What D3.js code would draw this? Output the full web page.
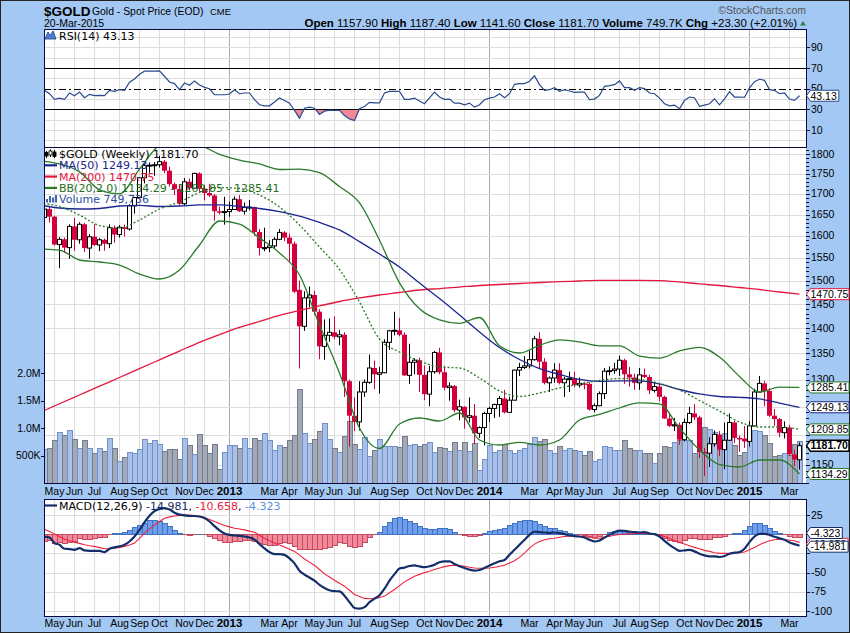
<!DOCTYPE html>
<html><head><meta charset="utf-8">
<script src="https://cdn.jsdelivr.net/npm/d3@7/dist/d3.min.js"></script>
<style>
html,body{margin:0;padding:0;background:#A4C8F4;}
svg{display:block;}
text{font-family:"Liberation Sans",Arial,sans-serif;}
.lg{font-family:"DejaVu Sans",Verdana,sans-serif;}
</style></head><body>
<svg id="chart" width="850" height="633"></svg>
<script>
// ================= DATA =================
const firstWeek = "2012-04-16"; // Monday of first weekly bar
const opens = [1659,1643,1663,1645,1580,1592,1573,1622,1591,1627,
1572,1598,1579,1591,1582,1619,1603,1620,1616,1671,
1691,1740,1771,1772,1773,1781,1758,1724,1712,1676,
1730,1714,1751,1713,1702,1696,1658,1656,1657,1662,
1687,1658,1667,1668,1609,1572,1573,1577,1592,1608,
1596,1582,1480,1404,1463,1469,1434,1364,1386,1392,
1383,1387,1297,1234,1223,1277,1295,1322,1310,1313,
1372,1395,1396,1387,1308,1333,1337,1309,1273,1315,
1352,1314,1285,1288,1244,1250,1231,1234,1203,1213,
1238,1247,1254,1265,1240,1262,1318,1323,1326,1338,
1379,1334,1294,1303,1318,1294,1301,1302,1290,1293,
1292,1245,1252,1274,1316,1317,1320,1337,1310,1304,
1294,1309,1305,1280,1287,1268,1229,1216,1218,1192,
1222,1238,1231,1171,1169,1185,1201,1175,1191,1222,
1195,1194,1189,1216,1277,1293,1279,1234,1228,1204,
1213,1167,1157.9];
const highs = [1660,1666,1670,1647,1597,1596,1627,1642,1632,1630,
1604,1627,1595,1594,1627,1624,1625,1626,1675,1692,
1741,1777,1779,1780,1796,1785,1768,1728,1723,1739,
1738,1753,1754,1722,1725,1700,1669,1693,1681,1694,
1697,1679,1685,1669,1616,1619,1590,1597,1616,1611,
1605,1587,1500,1477,1487,1478,1439,1418,1420,1424,
1397,1392,1300,1267,1297,1300,1348,1336,1324,1378,
1397,1434,1421,1392,1369,1341,1342,1327,1326,1355,
1361,1326,1295,1290,1263,1251,1267,1255,1215,1241,
1250,1256,1270,1281,1268,1319,1332,1345,1355,1385,
1392,1341,1306,1331,1331,1305,1315,1315,1304,1296,
1295,1256,1278,1322,1325,1332,1346,1340,1324,1311,
1322,1321,1309,1296,1294,1270,1240,1230,1222,1229,
1250,1255,1234,1178,1196,1208,1207,1222,1238,1225,
1199,1216,1224,1283,1307,1298,1284,1246,1230,1224,
1218,1175,1187.4];
const lows = [1627,1632,1631,1578,1527,1561,1548,1566,1582,1563,
1548,1577,1565,1566,1572,1584,1596,1598,1612,1652,
1687,1726,1753,1745,1766,1752,1718,1697,1672,1672,
1708,1713,1705,1684,1693,1635,1650,1626,1645,1661,
1656,1650,1660,1600,1555,1565,1563,1571,1590,1588,
1539,1473,1321,1395,1443,1427,1339,1338,1373,1378,
1366,1268,1180,1207,1208,1268,1292,1282,1274,1312,
1357,1386,1384,1307,1292,1310,1277,1262,1251,1311,
1310,1280,1261,1240,1226,1211,1222,1185,1195,1182,
1223,1230,1232,1238,1239,1262,1307,1320,1321,1336,
1321,1291,1277,1294,1291,1268,1277,1286,1285,1282,
1243,1240,1251,1264,1308,1311,1307,1292,1287,1281,
1281,1303,1273,1276,1260,1228,1214,1207,1183,1189,
1219,1226,1161,1131,1146,1180,1164,1142,1190,1186,
1171,1178,1180,1215,1276,1251,1232,1216,1196,1194,
1164,1147,1141.6];
const closes = [1643,1663,1645,1580,1592,1573,1622,1591,1627,1572,
1598,1579,1591,1582,1619,1603,1620,1616,1671,1691,
1740,1771,1772,1773,1781,1758,1724,1712,1676,1730,
1714,1751,1713,1702,1696,1658,1656,1657,1662,1687,
1658,1667,1668,1609,1572,1573,1577,1592,1608,1596,
1582,1476,1404,1463,1469,1434,1364,1386,1392,1383,
1387,1297,1234,1223,1277,1295,1322,1310,1313,1372,
1395,1396,1387,1308,1333,1337,1309,1273,1315,1352,
1314,1285,1288,1244,1250,1231,1234,1203,1213,1238,
1247,1254,1265,1240,1262,1318,1323,1326,1338,1379,
1334,1294,1303,1318,1294,1301,1302,1290,1293,1292,
1245,1252,1274,1316,1317,1320,1337,1310,1304,1294,
1309,1305,1280,1287,1268,1229,1216,1218,1192,1222,
1238,1231,1171,1169,1185,1201,1175,1191,1222,1195,
1194,1189,1216,1277,1293,1279,1234,1228,1204,1213,
1167,1158.4,1181.7];
const volumesK = [600,614,632,766,924,875,966,784,632,766,
632,529,632,583,815,632,389,468,553,541,
614,784,723,766,705,583,614,614,437,815,
675,511,888,690,541,705,250,560,690,690,
620,815,632,815,770,905,766,600,690,650,
766,875,1708,905,720,784,948,1088,784,632,
560,845,1130,705,614,830,492,600,784,660,
670,660,650,850,690,700,670,710,735,550,
650,630,570,735,600,740,570,720,237,430,
680,550,590,710,590,540,590,630,710,830,
765,800,600,540,660,600,630,600,570,510,
570,390,430,660,650,600,600,780,620,600,
600,540,530,360,540,660,650,735,780,770,
770,540,1015,1015,980,920,770,910,830,675,
510,550,845,966,940,875,720,490,500,530,
510,700,749.736];
const rsiValues = [49.5,
48.4,45.1,39.6,40.9,39.6,45.8,43.2,46.7,41.2,44.5,
43.2,43.5,43.2,48.4,47.4,49.0,48.4,56.2,59.4,64.0,
66.9,66.9,66.9,67.2,62.0,56.5,54.9,49.0,55.5,53.3,
57.5,53.6,51.3,50.0,44.1,44.1,44.1,44.8,49.0,45.1,
45.8,45.8,39.3,34.4,33.4,33.4,37.0,40.9,38.6,36.0,
28.9,21.4,31.1,32.1,31.1,25.0,28.2,29.2,28.9,28.9,
24.0,20.7,19.1,30.5,32.8,36.7,36.3,36.3,45.8,47.4,
47.4,47.4,39.6,39.6,40.9,38.0,35.4,
41.0,46.7,
41.9,39.6,39.9,36.0,36.0,34.4,36.0,32.1,34.4,39.3,
40.9,41.9,45.1,41.2,45.1,54.2,54.9,54.9,57.2,62.4,
53.9,48.4,49.0,51.0,47.4,49.0,47.7,46.4,46.7,46.7,
39.3,39.9,43.5,52.3,52.9,53.9,57.5,51.0,51.0,48.4,
51.0,50.0,45.8,45.1,40.9,35.4,33.4,34.1,30.5,38.6,
41.9,41.2,32.8,34.1,35.4,40.2,34.4,40.2,47.1,41.9,
41.9,41.5,50.7,56.8,59.1,58.1,49.0,48.4,45.1,45.8,
39.9,38.6,43.13];
const macdValues = [-1,
-3,-4.3,-11.6,-13.8,-19,-19.4,-20.3,-18.1,-21.1,-21.6,
-21.6,-21.6,-23.3,-19,-17.2,-15.9,-13.8,-9.5,-3,5.6,
15.5,24.1,30,33,34,32,28,25.5,24.5,23.7,
23.7,23,21,16.5,10.5,5,1,-0.9,-1.7,-2.2,
-3,-4.3,-7,-13,-18.5,-23.3,-25.9,-26,-27,-31.5,
-38,-47.5,-52.6,-56.5,-60.5,-66,-70,-73,-74.1,-74.5,
-80,-88.5,-96,-97,-95,-88.5,-84,-79.5,-71,-60.5,
-52,-44.8,-43.5,-41.4,-40.5,-42,-43,
-41.8,-39.7,-36.6,-35.3,-35.3,-38.8,-41.8,-44,-46.1,-47.4,
-46.6,-44,-40.9,-37.9,-35.3,-33.6,-26.7,-20.3,-13.8,-7.3,
-0.9,3.4,2.6,2.2,1.7,2.2,1.3,0,-1.7,-2.6,
-3,-4.3,-7.3,-9.5,-8.2,-4.3,-0.9,2.6,4.7,4.3,
3.4,2.6,2.2,2.6,0.9,0,-3,-8.6,-13.8,-18.1,
-21.6,-21.1,-20.3,-22.4,-25.4,-27.6,-28.9,-28.9,-29.7,-28.4,
-25.4,-24.1,-23.3,-19,-10.3,-3,0.4,0.4,-0.9,-3.4,
-5.2,-7.3,-10.8,-12.9,-14.981];
const signalValues = [9,
6.5,3.5,0.4,-3,-6.5,-8.5,-10.3,-12,-13.8,-15,
-15.9,-17.5,-19,-18.8,-18.1,-17.2,-15.9,-14,-11.6,-5.5,
1.3,6.5,12.1,16.5,20.7,22.5,23.7,24.5,25,24.8,
24.1,23,21.6,19,16.4,13.8,11.2,9.5,7.8,6.7,
5.6,4,2.6,-1.3,-5.2,-8.4,-11.6,-14.2,-16.8,-19.6,
-22.4,-27.3,-32.3,-36.4,-40.5,-46,-51.7,-55.8,-59.9,-63.8,
-67.7,-73,-78.4,-81,-83.6,-84,-83.6,-82.3,-80.6,-76.3,
-72,-67,-62.1,-58.4,-54.7,-52.3,-50,
-48.3,-46.1,-44,-42.2,-40.9,-40.5,-40.9,-41.8,-43.1,-44,
-44.4,-44.4,-44,-43.1,-41.8,-40.5,-37.5,-34.5,-30.2,-24.6,
-18.1,-12.9,-9.5,-7.3,-6,-5.2,-3.9,-3,-2.6,-2.6,
-2.6,-3,-3.9,-5.2,-5.2,-3.9,-2.6,-1.3,-0.4,0,
0.4,0.9,0.9,0.9,0.9,0.4,-0.9,-3,-5.6,-8.2,
-10.8,-12.9,-15.1,-17.2,-19,-21.1,-22.4,-24.1,-25,-25,
-25,-24.6,-24.1,-23.3,-20.3,-17.2,-13.8,-10.8,-8.6,-7.3,
-6.5,-6.9,-7.8,-8.6,-10.658];
// overlays read every 4th week
const sampleWeeks = [0,4,8,12,16,20,24,28,32,36,40,44,48,52,56,60,64,68,72,76,80,84,88,92,96,100,104,108,112,116,120,124,128,132,136,140,144,148,152];
const ma50 = [1673,1665.7,1663.3,1664.5,1670.5,1671.8,1669.3,1670.5,1673,1673,1669.3,1664.5,1657.2,1646.5,1631.2,1613.7,1586.6,1558.6,1529.7,1494.6,1461.6,1427.3,1392.7,1361.7,1338.3,1321,1309.7,1300.3,1296.6,1297.5,1297.5,1291.9,1281.6,1273.4,1268.7,1267.2,1264.2,1256.8,1249.13];
const ma200 = [1239.5,1255.5,1271.5,1287.7,1304,1320.8,1337.7,1354.8,1372,1387.4,1401.7,1413.9,1426.2,1436.5,1445.9,1455.3,1462.7,1469,1474.3,1479.7,1482.8,1486,1489.3,1491.5,1493.6,1495.8,1497.5,1499,1500.5,1500.5,1500.5,1500,1496.9,1492.6,1489.3,1485,1480.7,1475.4,1470.75];
const bbUpper = [1783,1775,1755,1710,1700,1762,1823,1837,1825,1800,1785,1775,1761,1762,1753,1718,1678,1590,1495,1440,1417,1410,1422,1365,1351,1366,1377,1373,1365,1365,1345,1341,1355,1362,1343,1306,1277,1286,1285.41];
const bbMiddle = [1677.7,1669.3,1648.9,1624.1,1618.3,1637.1,1663.3,1680.2,1703.4,1715.7,1713.3,1697.2,1668.1,1625.3,1574.4,1524.1,1454.2,1378.6,1352.9,1335.4,1323.9,1322.0,1303.1,1278.8,1268.7,1275.1,1284.4,1291.8,1298.4,1302.1,1300.2,1292.7,1280.7,1261.4,1242.4,1222.8,1214.0,1214.0,1209.85];
const bbLower = [1569.9,1567.6,1545.2,1540.7,1534.0,1514.2,1503.3,1523.0,1579.0,1634.7,1627.6,1595.1,1560.9,1512.1,1406.7,1312.5,1212.3,1176.9,1219.3,1229.9,1224.6,1238.8,1191.5,1182.9,1187.2,1182.9,1191.5,1226.4,1236.2,1247.8,1256.9,1255.1,1212.3,1174.4,1150.0,1145.9,1157.5,1157.5,1134.29];
const priceTicks = [1150,1200,1250,1300,1350,1400,1450,1500,1550,1600,1650,1700,1750,1800];
const rsiTicks = [10,30,50,70,90];
const macdTicks = [25,0,-25,-50,-75,-100];
const volTicks = [500000,1000000,1500000,2000000];
const volTickLabels = ["500K","1.0M","1.5M","2.0M"];
const monthNames = ["Jan","Feb","Mar","Apr","May","Jun","Jul","Aug","Sep","Oct","Nov","Dec"];
const hiddenMonthLabels = ["Feb"];
const headerItems = [["Open ",1],["1157.90 ",0],["High ",1],["1187.40 ",0],["Low ",1],["1141.60 ",0],["Close ",1],["1181.70 ",0],["Volume ",1],["749.7K ",0],["Chg ",1],["+23.30 (+2.01%)",0]];

// ================= LAYOUT / STYLE =================
const C = {bg:'#A4C8F4', border:'#0A0A3C', grid:'#DDDDDD', gridYear:'#AAAAAA', red:'#D2003C',
  ma50:'#1C2690', ma200:'#E5163E', bb:'#2A7A2A', rsi:'#2A4A8C', rsiFill:'#F2899B',
  macd:'#142E6A', signal:'#F0213F', histPos:'#6E9EEC', histPosS:'#4272C2', histNeg:'#F38A9B', histNegS:'#C64A60',
  volUp:'#A9C1E8', volUpS:'#6F90C8', volDn:'#A3A9B6', volDnS:'#737C8C'};
const L=44, R=806;
const P = {rsi:[29.5,147], main:[147,483], macd:[499,616]};

const svg = d3.select('#chart');
const defs = svg.append('defs');
svg.append('rect').attr('width',850).attr('height',633).attr('fill',C.bg);
Object.entries(P).forEach(([k,[t,b]])=>{
  svg.append('rect').attr('x',L).attr('y',t).attr('width',R-L).attr('height',b-t).attr('fill','#fff');
  defs.append('clipPath').attr('id','clip-'+k).append('rect').attr('x',L).attr('y',t).attr('width',R-L).attr('height',b-t);
});

// ================= SCALES =================
const n = opens.length;
const t0 = new Date(firstWeek+"T00:00:00Z");
const dates = d3.range(n).map(i=>d3.utcDay.offset(t0, 7*i));
const x = d3.scaleUtc().domain([dates[0],dates[n-1]]).range([39.5,799.5]);
const y = d3.scaleLog().domain([1119.7,1819.1]).range([483,147]);
const yv = d3.scaleLinear().domain([0,6.126e6]).range([483,147]);
const yr = d3.scaleLinear().domain([-6.5,107.3]).range([147,29.5]);
const ym = d3.scaleLinear().domain([-106.5,45.8]).range([616,499]);
const cr = v => Math.round(v)+0.5;
const last = a=>a[a.length-1];

// ================= GRID =================
const grid = svg.append('g').attr('shape-rendering','crispEdges');
const monthIdx = d3.range(1,n).filter(i=>dates[i].getUTCMonth()!==dates[i-1].getUTCMonth());
Object.values(P).forEach(([t,b])=>{
  monthIdx.forEach(i=>{
    const xx = cr(x(dates[i])-0.5);
    grid.append('line').attr('x1',xx).attr('x2',xx).attr('y1',t).attr('y2',b)
      .attr('stroke', dates[i].getUTCMonth()===0?C.gridYear:C.grid).attr('stroke-width',1);
  });
});
d3.range(0,101,10).filter(v=>![30,50,70].includes(v)).forEach(v=>{
  grid.append('line').attr('x1',L).attr('x2',R).attr('y1',cr(yr(v))).attr('y2',cr(yr(v))).attr('stroke',C.grid);
});
priceTicks.forEach(v=>grid.append('line').attr('x1',L).attr('x2',R).attr('y1',cr(y(v))).attr('y2',cr(y(v))).attr('stroke',C.grid));
macdTicks.forEach(v=>grid.append('line').attr('x1',L).attr('x2',R).attr('y1',cr(ym(v))).attr('y2',cr(ym(v))).attr('stroke',C.grid));

// ================= RSI PANEL =================
const rsiG = svg.append('g').attr('clip-path','url(#clip-rsi)');
defs.append('clipPath').attr('id','clip-rsi-low').append('rect').attr('x',L).attr('y',yr(30)).attr('width',R-L).attr('height',P.rsi[1]-yr(30));
rsiG.append('path').datum(rsiValues)
  .attr('d', d3.area().x((d,i)=>x(dates[i])).y0(yr(30)).y1(d=>yr(d)))
  .attr('fill',C.rsiFill).attr('clip-path','url(#clip-rsi-low)');
[30,70].forEach(v=>rsiG.append('line').attr('x1',L).attr('x2',R).attr('y1',cr(yr(v))).attr('y2',cr(yr(v))).attr('stroke','#000').attr('shape-rendering','crispEdges'));
rsiG.append('line').attr('x1',L).attr('x2',R).attr('y1',cr(yr(50))).attr('y2',cr(yr(50))).attr('stroke','#000').attr('stroke-dasharray','7,3,2,3').attr('shape-rendering','crispEdges');
rsiG.append('path').datum(rsiValues).attr('d', d3.line().x((d,i)=>x(dates[i])).y(d=>yr(d)))
  .attr('fill','none').attr('stroke',C.rsi).attr('stroke-width',1.2);

// ================= MAIN PANEL =================
const mainG = svg.append('g').attr('clip-path','url(#clip-main)');
const volG = mainG.append('g').attr('shape-rendering','crispEdges');
volumesK.forEach((v,i)=>{
  const up = i===0 ? closes[i]>=opens[i] : closes[i]>=closes[i-1];
  const cx = x(dates[i]);
  volG.append('rect').attr('x',cx-2.5).attr('width',5).attr('y',yv(v*1000)).attr('height',483-yv(v*1000))
    .attr('fill',up?C.volUp:C.volDn).attr('stroke',up?C.volUpS:C.volDnS).attr('stroke-width',1);
});
const cG = mainG.append('g');
d3.range(n).forEach(i=>{
  const cx = x(dates[i]);
  const up = closes[i]>=opens[i];
  const col = up?'#000':C.red;
  cG.append('line').attr('x1',cx).attr('x2',cx).attr('y1',y(highs[i])).attr('y2',y(lows[i])).attr('stroke',col).attr('stroke-width',1);
  const yt = y(Math.max(opens[i],closes[i])), yb = y(Math.min(opens[i],closes[i]));
  if(up){
    cG.append('rect').attr('x',cx-2).attr('width',4).attr('y',yt).attr('height',Math.max(1,yb-yt))
      .attr('fill','#fff').attr('stroke','#000').attr('stroke-width',1);
  } else {
    cG.append('rect').attr('x',cx-2.5).attr('width',5).attr('y',yt).attr('height',Math.max(1.5,yb-yt)).attr('fill',C.red);
  }
});
const sLine = d3.line().x((d,k)=>x(dates[sampleWeeks[k]])).y(d=>y(d)).curve(d3.curveMonotoneX);
mainG.append('path').datum(ma200).attr('d',sLine).attr('fill','none').attr('stroke',C.ma200).attr('stroke-width',1.3);
mainG.append('path').datum(ma50).attr('d',sLine).attr('fill','none').attr('stroke',C.ma50).attr('stroke-width',1.3);
mainG.append('path').datum(bbUpper).attr('d',sLine).attr('fill','none').attr('stroke',C.bb).attr('stroke-width',1.3);
mainG.append('path').datum(bbLower).attr('d',sLine).attr('fill','none').attr('stroke',C.bb).attr('stroke-width',1.3);
mainG.append('path').datum(bbMiddle).attr('d',sLine).attr('fill','none').attr('stroke',C.bb).attr('stroke-width',1.3).attr('stroke-dasharray','2,2');

// ================= MACD PANEL =================
const macdG = svg.append('g').attr('clip-path','url(#clip-macd)');
const hG = macdG.append('g').attr('shape-rendering','crispEdges');
d3.range(n).forEach(i=>{
  const h = macdValues[i]-signalValues[i];
  const cx = x(dates[i]);
  const y1 = ym(Math.max(h,0)), y2 = ym(Math.min(h,0));
  hG.append('rect').attr('x',cx-2.5).attr('width',5).attr('y',y1).attr('height',Math.max(0.5,y2-y1))
    .attr('fill',h>=0?C.histPos:C.histNeg).attr('stroke',h>=0?C.histPosS:C.histNegS).attr('stroke-width',1);
});
macdG.append('path').datum(signalValues).attr('d',d3.line().x((d,i)=>x(dates[i])).y(d=>ym(d)))
  .attr('fill','none').attr('stroke',C.signal).attr('stroke-width',1.1);
macdG.append('path').datum(macdValues).attr('d',d3.line().x((d,i)=>x(dates[i])).y(d=>ym(d)).curve(d3.curveMonotoneX))
  .attr('fill','none').attr('stroke',C.macd).attr('stroke-width',2.2);

// ================= BORDERS =================
const bG = svg.append('g').attr('shape-rendering','crispEdges').attr('fill','none').attr('stroke',C.border);
bG.append('rect').attr('x',L+0.5).attr('y',29.5).attr('width',R-L).attr('height',117.5);
bG.append('path').attr('d',`M${L+0.5},147.5V483.5H${R+0.5}M${L+0.5},147.5H${R+0.5}`);
bG.append('rect').attr('x',L+0.5).attr('y',499.5).attr('width',R-L).attr('height',117);
svg.append('rect').attr('x',0.5).attr('y',0.5).attr('width',849).attr('height',632).attr('fill','none').attr('stroke','#222');

// ================= VALUE TAG POSITIONS =================
const hist = last(macdValues)-last(signalValues);
const mainTags = [
  {v:last(ma200), s:C.ma200}, {v:last(bbUpper), s:C.bb}, {v:last(ma50), s:C.ma50},
  {v:last(bbMiddle), s:C.bb}, {v:last(bbLower), s:C.bb}, {v:last(closes), s:'#000', b:true}
].map(t=>({...t, y:y(t.v), txt:t.v.toFixed(2)}));
const rsiTag = {v:last(rsiValues), y:yr(last(rsiValues)), s:C.rsi, txt:last(rsiValues).toFixed(2)};
// MACD tags: hidden signal tag drawn first, then histogram and MACD tags nudged apart like the original
const macdTags = [
  {y:ym(last(signalValues))+1.5, s:C.signal, txt:last(signalValues).toFixed(3)},
  {y:ym(hist)-4.5, s:'#1A2A60', txt:hist.toFixed(3)},
  {y:ym(last(macdValues))+1, s:C.macd, txt:last(macdValues).toFixed(3)}
];
const covered = (yy, tags)=>tags.some(t=>Math.abs(t.y-yy)<7);

// ================= AXES =================
const ax = svg.append('g').attr('shape-rendering','crispEdges');
d3.range(1120,1820,10).forEach(v=>{ if(y(v)>=147 && y(v)<=483) ax.append('line').attr('x1',R).attr('x2',R+2.5).attr('y1',cr(y(v))).attr('y2',cr(y(v))).attr('stroke',C.border); });
priceTicks.forEach(v=>{
  ax.append('line').attr('x1',R).attr('x2',R+4).attr('y1',cr(y(v))).attr('y2',cr(y(v))).attr('stroke',C.border);
  if(!covered(y(v), mainTags)) svg.append('text').attr('x',R+5).attr('y',y(v)+3.6).attr('font-size',10.5).attr('fill','#000').text(v);
});
rsiTicks.forEach(v=>{
  ax.append('line').attr('x1',R).attr('x2',R+4).attr('y1',cr(yr(v))).attr('y2',cr(yr(v))).attr('stroke',C.border);
  if(!covered(yr(v), [rsiTag])) svg.append('text').attr('x',R+5).attr('y',yr(v)+3.6).attr('font-size',10.5).text(v);
});
macdTicks.forEach(v=>{
  ax.append('line').attr('x1',R).attr('x2',R+4).attr('y1',cr(ym(v))).attr('y2',cr(ym(v))).attr('stroke',C.border);
  if(!covered(ym(v), macdTags)) svg.append('text').attr('x',R+5).attr('y',ym(v)+3.6).attr('font-size',10.5).text(v);
});
volTicks.forEach((v,k)=>{
  ax.append('line').attr('x1',L-3).attr('x2',L).attr('y1',cr(yv(v))).attr('y2',cr(yv(v))).attr('stroke',C.border);
  svg.append('text').attr('x',L-3.5).attr('y',yv(v)+3.6).attr('font-size',10.5).attr('text-anchor','end').text(volTickLabels[k]);
});
[495, 627].forEach(by=>{
  monthIdx.forEach(i=>{
    const m = dates[i].getUTCMonth();
    const name = monthNames[m];
    if(hiddenMonthLabels.includes(name)) return;
    const isYear = m===0;
    svg.append('text').attr('x',x(dates[i])).attr('y',by).attr('text-anchor','middle')
      .attr('font-size',isYear?11.5:10.5).attr('font-weight',isYear?'bold':'normal')
      .text(isYear?dates[i].getUTCFullYear():name);
  });
});

// ================= LEGENDS =================
const lg = svg.append('g');
lg.append('path').attr('d','M45,39 L48,32 L50,35.5 L53,31 L56,39 Z').attr('fill','#4C7FD6').attr('stroke','#1D3E7A').attr('stroke-width',0.8);
lg.append('text').attr('class','lg').attr('x',59).attr('y',39.5).attr('font-size',11).attr('fill','#000').text(`RSI(14) ${last(rsiValues).toFixed(2)}`);
const ic = lg.append('g');
[[46.5,151,158,152.5,156,'#000'],[50.5,149.5,157,151,155,'#fff'],[54.5,150,158,152,156.5,'#000']].forEach(([cx,h,l,t,b,f])=>{
  ic.append('line').attr('x1',cx).attr('x2',cx).attr('y1',h).attr('y2',l).attr('stroke','#000');
  ic.append('rect').attr('x',cx-1.5).attr('y',t).attr('width',3).attr('height',b-t).attr('fill',f).attr('stroke','#000').attr('stroke-width',0.8);
});
const legendRows = [
  {t:`$GOLD (Weekly) ${last(closes).toFixed(2)}`, c:'#000', y:158},
  {t:`MA(50) ${last(ma50).toFixed(2)}`, c:C.ma50, y:169.3, line:C.ma50},
  {t:`MA(200) ${last(ma200).toFixed(2)}`, c:C.ma200, y:180.6, line:C.ma200},
  {t:`BB(20,2.0) ${last(bbLower).toFixed(2)} - ${last(bbMiddle).toFixed(2)} - ${last(bbUpper).toFixed(2)}`, c:'#1E6E1E', y:191.9, line:C.bb},
  {t:`Volume ${d3.format(',')(Math.round(last(volumesK)*1000))}`, c:'#2B4FA0', y:202.5}
];
legendRows.forEach(r=>{
  if(r.line) lg.append('line').attr('x1',45).attr('x2',57).attr('y1',r.y-4).attr('y2',r.y-4).attr('stroke',r.line).attr('stroke-width',2.2);
  lg.append('text').attr('class','lg').attr('x',59).attr('y',r.y).attr('font-size',11).attr('fill',r.c).text(r.t);
});
[[46,199,202.5],[49,196,202.5],[52,197.5,202.5],[55,195,202.5]].forEach(([bx,t,b])=>lg.append('rect').attr('x',bx).attr('y',t).attr('width',2).attr('height',b-t).attr('fill','#3D63B0'));
lg.append('line').attr('x1',45).attr('x2',57).attr('y1',505.5).attr('y2',505.5).attr('stroke',C.macd).attr('stroke-width',2.2);
const mt = lg.append('text').attr('class','lg').attr('x',59).attr('y',509.5).attr('font-size',11).style('white-space','pre');
mt.append('tspan').attr('fill','#000').text('MACD(12,26,9) ');
mt.append('tspan').attr('fill',C.macd).text(last(macdValues).toFixed(3));
mt.append('tspan').attr('fill','#000').text(', ');
mt.append('tspan').attr('fill',C.signal).text(last(signalValues).toFixed(3));
mt.append('tspan').attr('fill','#000').text(', ');
mt.append('tspan').attr('fill','#5E8FE0').text(hist.toFixed(3));

// ================= HEADER =================
svg.append('text').attr('x',44).attr('y',15.5).attr('font-size',13.5).attr('font-weight','bold').text('$GOLD');
svg.append('text').attr('x',92).attr('y',15).attr('font-size',10.4).text('Gold - Spot Price (EOD)');
svg.append('text').attr('x',210).attr('y',15).attr('font-size',9.5).text('CME');
svg.append('text').attr('x',44).attr('y',27).attr('font-size',10.5).text('20-Mar-2015');
svg.append('text').attr('x',806).attr('y',13.5).attr('font-size',10.5).attr('text-anchor','end').attr('fill','#555').text('\u00A9StockCharts.com');
const hd = svg.append('text').attr('x',797).attr('y',27).attr('text-anchor','end').attr('font-size',11.5).style('white-space','pre');
headerItems.forEach(([s,b])=>hd.append('tspan').attr('font-weight',b?'bold':'normal').text(s));
svg.append('path').attr('d','M800,25.5 L803,21 L806,25.5 Z').attr('fill','#3B7A57');

// ================= VALUE TAGS =================
function tag(t){
  const g = svg.append('g');
  const tx = g.append('text').attr('x',810.5).attr('y',t.y+3.8).attr('font-size',10.5)
    .attr('font-weight',t.b?'bold':'normal').attr('fill','#000').text(t.txt);
  const w = tx.node().getComputedTextLength();
  const h = 11, r = Math.min(849, 810.5+w+2);
  g.insert('path', ()=>tx.node())
    .attr('d',`M${R+0.5},${t.y} L${R+4.5},${t.y-h/2} L${r},${t.y-h/2} L${r},${t.y+h/2} L${R+4.5},${t.y+h/2} Z`)
    .attr('fill','#fff').attr('stroke',t.s).attr('stroke-width',t.b?1.4:1);
}
tag(rsiTag);
mainTags.forEach(tag);
macdTags.forEach(tag);
</script>
</body></html>
